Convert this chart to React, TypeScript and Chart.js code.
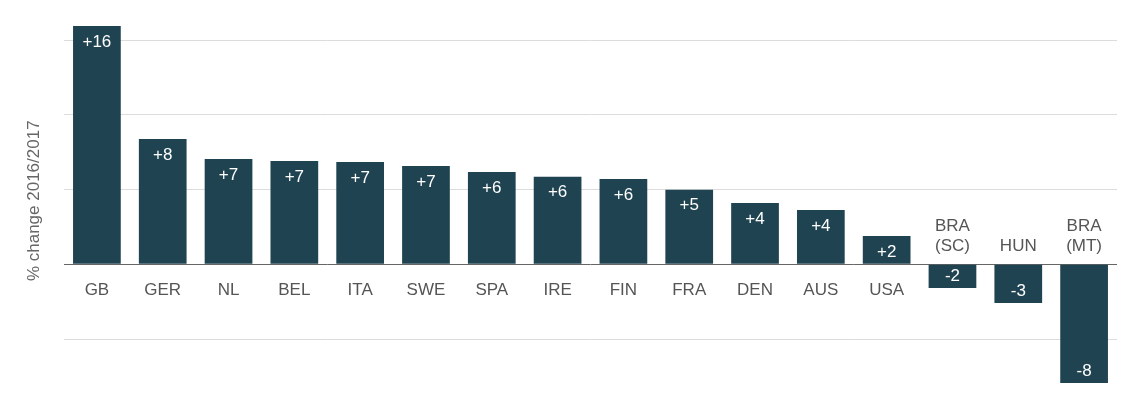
import React, { useEffect, useRef } from "react";
import { Chart, registerables } from "chart.js";

Chart.register(...registerables);

const categories: (string | string[])[] = [
  "GB", "GER", "NL", "BEL", "ITA", "SWE", "SPA", "IRE", "FIN", "FRA", "DEN", "AUS", "USA",
  ["BRA", "(SC)"], "HUN", ["BRA", "(MT)"],
];
const values: number[] = [
  15.94, 8.38, 7.04, 6.91, 6.84, 6.58, 6.17, 5.86, 5.71, 4.99, 4.1, 3.63, 1.89, -1.59, -2.59, -7.94,
];
const gridTicks: number[] = [-5, 0, 5, 10, 15];
const yTitle = "% change 2016/2017";

const FONT = "'Liberation Sans', Arial, Helvetica, sans-serif";
const BAR = "#1f4350";

const fmt = (v: number) => {
  const r = Math.round(v);
  return r > 0 ? "+" + r : String(r);
};

const labelPlugin = {
  id: "barLabels",
  afterDatasetsDraw(chart: any) {
    const ctx = chart.ctx;
    const meta = chart.getDatasetMeta(0);
    const yScale = chart.scales.y;
    const zero = yScale.getPixelForValue(0);
    ctx.save();
    ctx.font = `17px ${FONT}`;
    ctx.textAlign = "center";
    ctx.textBaseline = "middle";
    meta.data.forEach((bar: any, i: number) => {
      const v = values[i];
      const x = bar.x;
      // value label
      ctx.fillStyle = "#ffffff";
      if (v >= 0) ctx.fillText(fmt(v), x, bar.y + 16);
      else ctx.fillText(fmt(v), x, bar.y - 12);
      // category label
      ctx.fillStyle = "#555555";
      const cat = categories[i];
      const lines = Array.isArray(cat) ? cat : [cat];
      if (v >= 0) {
        lines.forEach((l, k) => ctx.fillText(l, x, zero + 26 + k * 20));
      } else {
        const n = lines.length;
        lines.forEach((l, k) => ctx.fillText(l, x, zero - 18 - (n - 1 - k) * 20));
      }
    });
    ctx.restore();
  },
};

export default function App() {
  const ref = useRef<HTMLCanvasElement>(null);
  useEffect(() => {
    if (!ref.current) return;
    const chart = new Chart(ref.current, {
      type: "bar",
      data: {
        labels: categories as any,
        datasets: [
          {
            data: values,
            backgroundColor: BAR,
            borderWidth: 0,
            barPercentage: 0.725,
            categoryPercentage: 1,
          },
        ],
      },
      options: {
        animation: false,
        responsive: true,
        maintainAspectRatio: false,
        layout: { padding: { top: 9.6, bottom: 1.1, right: 4, left: 0 } },
        plugins: { legend: { display: false }, tooltip: { enabled: false } },
        scales: {
          x: {
            display: false,
            offset: true,
          },
          y: {
            min: -8,
            max: 16.5,
            afterBuildTicks: (scale: any) => {
              scale.ticks = gridTicks.map((v) => ({ value: v }));
            },
            afterFit: (scale: any) => {
              scale.width = 56;
            },
            ticks: { display: false },
            border: { display: false },
            grid: {
              drawTicks: false,
              color: (c: any) => (c.tick && c.tick.value === 0 ? "#666666" : "#dcdcdc"),
              lineWidth: 1,
            },
            title: {
              display: true,
              text: yTitle,
              color: "#666666",
              font: { family: FONT, size: 17, weight: "normal" },
              padding: { top: 16, bottom: 4 },
            },
          },
        },
      },
      plugins: [labelPlugin],
    });
    return () => chart.destroy();
  }, []);
  return (
    <div style={{ width: 1113, height: 377, position: "relative" }}>
      <canvas ref={ref} />
    </div>
  );
}
